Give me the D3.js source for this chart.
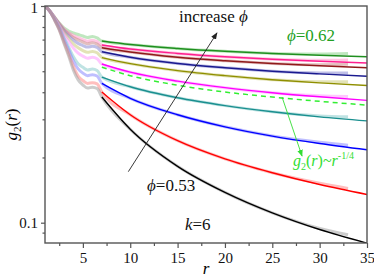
<!DOCTYPE html>
<html>
<head>
<meta charset="utf-8">
<script src="https://cdn.jsdelivr.net/npm/d3@7/dist/d3.min.js"></script>
<style>
  body { margin: 0; background: #fff; }
</style>
</head>
<body>
<svg id="chart" width="374" height="277"></svg>
<script>
// r values of the measured data and of the fitted lines
var dataR = [1, 1.5, 2, 2.5, 3, 3.5, 4, 4.5, 5, 5.5, 6, 6.5, 7, 10, 15, 20, 25, 30, 33];
var fitR  = [7, 10, 15, 20, 25, 30, 35];

// measured g2(r), one array per packing fraction (top to bottom)
var dGreen   = [1, 0.948, 0.890, 0.835, 0.792, 0.767, 0.751, 0.739, 0.727, 0.716, 0.723, 0.712, 0.689, 0.664, 0.637, 0.618, 0.604, 0.600, 0.603];
var dPink    = [1, 0.948, 0.888, 0.831, 0.783, 0.752, 0.730, 0.714, 0.700, 0.688, 0.695, 0.685, 0.660, 0.633, 0.604, 0.583, 0.568, 0.562, 0.564];
var dDarkRed = [1, 0.948, 0.886, 0.828, 0.777, 0.743, 0.716, 0.697, 0.682, 0.670, 0.677, 0.667, 0.642, 0.613, 0.580, 0.559, 0.543, 0.536, 0.538];
var dNavy    = [1, 0.948, 0.884, 0.823, 0.768, 0.729, 0.696, 0.672, 0.657, 0.646, 0.652, 0.643, 0.615, 0.580, 0.543, 0.519, 0.500, 0.491, 0.491];
var dOlive   = [1, 0.948, 0.881, 0.817, 0.756, 0.709, 0.668, 0.641, 0.623, 0.611, 0.617, 0.608, 0.579, 0.542, 0.503, 0.477, 0.457, 0.447, 0.447];
var dMagenta = [1, 0.948, 0.878, 0.810, 0.741, 0.687, 0.639, 0.606, 0.587, 0.574, 0.580, 0.571, 0.540, 0.495, 0.450, 0.420, 0.398, 0.385, 0.382];
var dTeal    = [1, 0.948, 0.872, 0.796, 0.715, 0.646, 0.583, 0.541, 0.521, 0.507, 0.512, 0.504, 0.470, 0.424, 0.377, 0.347, 0.325, 0.311, 0.308];
var dBlue    = [1, 0.948, 0.868, 0.789, 0.701, 0.627, 0.557, 0.513, 0.490, 0.477, 0.482, 0.475, 0.440, 0.375, 0.315, 0.277, 0.251, 0.235, 0.228];
var dRed     = [1, 0.948, 0.865, 0.780, 0.684, 0.602, 0.525, 0.475, 0.453, 0.439, 0.443, 0.437, 0.401, 0.315, 0.239, 0.197, 0.170, 0.152, 0.144];
var dBlack   = [1, 0.948, 0.862, 0.775, 0.674, 0.588, 0.506, 0.456, 0.432, 0.418, 0.422, 0.416, 0.380, 0.270, 0.182, 0.138, 0.111, 0.094, 0.088];

// fitted curves
var fGreen   = [0.689, 0.664, 0.637, 0.618, 0.604, 0.593, 0.583];
var fPink    = [0.661, 0.633, 0.604, 0.583, 0.568, 0.556, 0.546];
var fDarkRed = [0.642, 0.613, 0.580, 0.559, 0.543, 0.530, 0.519];
var fNavy    = [0.615, 0.580, 0.543, 0.519, 0.500, 0.486, 0.474];
var fOlive   = [0.578, 0.542, 0.503, 0.477, 0.457, 0.442, 0.430];
var fMagenta = [0.540, 0.495, 0.450, 0.420, 0.398, 0.381, 0.367];
var fTeal    = [0.470, 0.424, 0.377, 0.347, 0.325, 0.308, 0.295];
var fBlue    = [0.439, 0.375, 0.315, 0.277, 0.251, 0.232, 0.217];
var fRed     = [0.401, 0.315, 0.239, 0.197, 0.170, 0.150, 0.135];
var fBlack   = [0.380, 0.270, 0.182, 0.138, 0.111, 0.093, 0.0805];
// g2 ~ r^-1/4 guide
var fPower   = [0.522, 0.477, 0.431, 0.401, 0.380, 0.363, 0.349];

var yMajor = [0.1, 1];
var yMinor = [0.09, 0.2, 0.3, 0.4, 0.5, 0.6, 0.7, 0.8, 0.9];
var xMajor = [5, 10, 15, 20, 25, 30, 35];
var xMinor = [2.5, 7.5, 12.5, 17.5, 22.5, 27.5, 32.5];

var lineColors = ["#1f8f1f", "#ff1f8f", "#8f1a1a", "#1a1a8f", "#8f8f00", "#ff00ff", "#1a8f8f", "#0000ff", "#ff0000", "#000000"];
var bandColors = ["#7fd07f", "#ff8fc8", "#c88080", "#8080d0", "#c8c870", "#ff90ff", "#80c8c8", "#8080ff", "#ff8080", "#9a9a9a"];
var dataSets = [dGreen, dPink, dDarkRed, dNavy, dOlive, dMagenta, dTeal, dBlue, dRed, dBlack];
var fitSets  = [fGreen, fPink, fDarkRed, fNavy, fOlive, fMagenta, fTeal, fBlue, fRed, fBlack];

var serif = "'Liberation Serif', 'Times New Roman', Times, 'DejaVu Serif', serif";

var margin = {top: 6, right: 7, bottom: 34, left: 45},
    width = 374 - margin.left - margin.right,
    height = 277 - margin.top - margin.bottom;

var x = d3.scaleLinear().domain([1, 35]).range([0, width]);
var y = d3.scaleLog().domain([0.0806, 1]).range([height, 0]);

var root = d3.select("#chart").attr("font-family", serif);

var svg = root.append("g")
    .attr("transform", "translate(" + margin.left + "," + margin.top + ")");

var defs = root.append("defs");
function addMarker(id, color) {
  defs.append("marker")
      .attr("id", id)
      .attr("viewBox", "0 0 10 10")
      .attr("refX", 9).attr("refY", 5)
      .attr("markerWidth", 7).attr("markerHeight", 7)
      .attr("markerUnits", "userSpaceOnUse")
      .attr("orient", "auto")
    .append("path")
      .attr("d", "M0,1 L10,5 L0,9 Z")
      .attr("fill", color);
}
addMarker("arrowBlack", "#222");
addMarker("arrowGreen", "#33dd33");

svg.append("clipPath").attr("id", "clip")
  .append("rect").attr("width", width).attr("height", height);

var plot = svg.append("g").attr("clip-path", "url(#clip)");

var line = d3.line()
    .x(function(d) { return x(d[0]); })
    .y(function(d) { return y(d[1]); })
    .curve(d3.curveMonotoneX);

// measured data: thick translucent bands
dataSets.forEach(function(vals, i) {
  plot.append("path")
      .datum(dataR.map(function(r, j) { return [r, vals[j]]; }))
      .attr("fill", "none")
      .attr("stroke", bandColors[i])
      .attr("stroke-width", 3)
      .attr("stroke-opacity", 0.5)
      .attr("d", line);
});

// fits
fitSets.forEach(function(vals, i) {
  plot.append("path")
      .datum(fitR.map(function(r, j) { return [r, vals[j]]; }))
      .attr("fill", "none")
      .attr("stroke", lineColors[i])
      .attr("stroke-width", 1.4)
      .attr("d", line);
});

plot.append("path")
    .datum(fitR.map(function(r, j) { return [r, fPower[j]]; }))
    .attr("fill", "none")
    .attr("stroke", "#33ee33")
    .attr("stroke-width", 1.5)
    .attr("stroke-dasharray", "5,4")
    .attr("d", line);

// frame
svg.append("rect")
    .attr("width", width).attr("height", height)
    .attr("fill", "none").attr("stroke", "#555").attr("stroke-width", 1.4);

// axes
svg.append("g")
    .attr("transform", "translate(0," + height + ")")
    .call(d3.axisBottom(x).tickValues(xMajor).tickSize(5).tickPadding(4).tickFormat(d3.format("d")));
svg.append("g")
    .attr("transform", "translate(0," + height + ")")
    .call(d3.axisBottom(x).tickValues(xMinor).tickSize(3).tickFormat(""));
svg.append("g")
    .attr("class", "yMajor")
    .call(d3.axisLeft(y).tickValues(yMajor).tickSize(4).tickPadding(3).tickFormat(function(d) { return d === 1 ? "1" : "0.1"; }));
svg.append("g")
    .call(d3.axisLeft(y).tickValues(yMinor).tickSize(2.5).tickFormat(""));

svg.selectAll(".domain").remove();
svg.selectAll(".tick line").attr("stroke", "#555").attr("stroke-width", 1.2);
svg.selectAll("g").attr("font-family", null);
svg.selectAll(".tick text").attr("fill", "#111").attr("font-size", "15px")
    .attr("font-family", serif);
// keep the top "1" inside the page
svg.selectAll(".yMajor .tick text").filter(function(d) { return d === 1; }).attr("dy", "0.45em");

// axis titles
svg.append("text")
    .attr("x", width / 2).attr("y", height + 31)
    .attr("text-anchor", "middle")
    .attr("font-size", "17px").attr("font-style", "italic")
    .text("r");

var yt = svg.append("text")
    .attr("transform", "translate(-28," + (height / 2) + ") rotate(-90)")
    .attr("text-anchor", "middle")
    .attr("font-size", "17px");
yt.append("tspan").attr("font-style", "italic").text("g");
yt.append("tspan").attr("font-size", "11px").attr("dy", 4).text("2");
yt.append("tspan").attr("dy", -4).text("(");
yt.append("tspan").attr("font-style", "italic").text("r");
yt.append("tspan").text(")");

// annotations
svg.append("line")
    .attr("x1", x(9.8)).attr("y1", y(0.172))
    .attr("x2", x(19.16)).attr("y2", y(0.751))
    .attr("stroke", "#222").attr("stroke-width", 0.9)
    .attr("marker-end", "url(#arrowBlack)");

var t1 = svg.append("text")
    .attr("x", x(15.15)).attr("y", y(0.844))
    .attr("font-size", "17px").attr("fill", "#111");
t1.append("tspan").text("increase ");
t1.append("tspan").attr("font-style", "italic").text("ϕ");

var t2 = svg.append("text")
    .attr("x", x(26.55)).attr("y", y(0.686))
    .attr("font-size", "17px").attr("fill", "#22a022");
t2.append("tspan").attr("font-style", "italic").text("ϕ");
t2.append("tspan").text("=0.62");

var t3 = svg.append("text")
    .attr("x", x(11.77)).attr("y", y(0.140))
    .attr("font-size", "17px").attr("fill", "#111");
t3.append("tspan").attr("font-style", "italic").text("ϕ");
t3.append("tspan").text("=0.53");

var t4 = svg.append("text")
    .attr("x", x(15.78)).attr("y", y(0.0926))
    .attr("font-size", "17px").attr("fill", "#111");
t4.append("tspan").attr("font-style", "italic").text("k");
t4.append("tspan").text("=6");

svg.append("line")
    .attr("x1", x(26.03)).attr("y1", y(0.380))
    .attr("x2", x(28.14)).attr("y2", y(0.203))
    .attr("stroke", "#33dd33").attr("stroke-width", 0.9)
    .attr("marker-end", "url(#arrowGreen)");

var t5 = svg.append("text")
    .attr("x", x(27.19)).attr("y", y(0.1827))
    .attr("font-size", "16px").attr("fill", "#33dd33");
t5.append("tspan").attr("font-style", "italic").text("g");
t5.append("tspan").attr("font-size", "10px").attr("dy", 4).text("2");
t5.append("tspan").attr("dy", -4).text("(");
t5.append("tspan").attr("font-style", "italic").text("r");
t5.append("tspan").text(")~");
t5.append("tspan").attr("font-style", "italic").text("r");
t5.append("tspan").attr("font-size", "10px").attr("dy", -7).text("-1/4");
</script>
</body>
</html>
